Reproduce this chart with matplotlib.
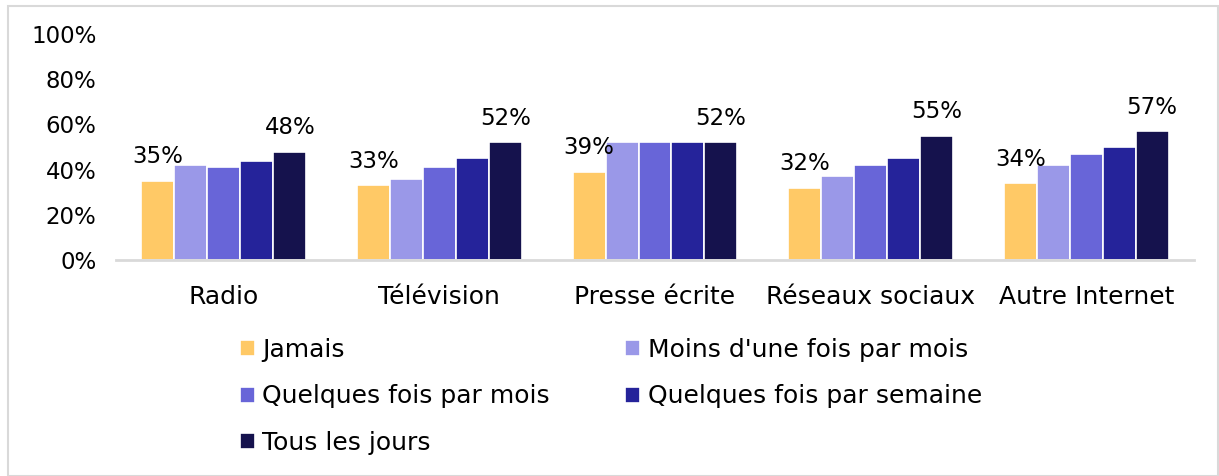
import matplotlib.pyplot as plt
import numpy as np
from matplotlib.patches import Rectangle

categories = ["Radio", "Télévision", "Presse écrite", "Réseaux sociaux", "Autre Internet"]
series = ["Jamais", "Moins d'une fois par mois", "Quelques fois par mois",
          "Quelques fois par semaine", "Tous les jours"]
values = [
    [35, 33, 39, 32, 34],   # Jamais
    [42, 36, 52, 37, 42],   # Moins d'une fois par mois
    [41, 41, 52, 42, 47],   # Quelques fois par mois
    [44, 45, 52, 45, 50],   # Quelques fois par semaine
    [48, 52, 52, 55, 57],   # Tous les jours
]
colors = ["#FFC966", "#9A98E8", "#6865D8", "#25239A", "#15124D"]
labelled = [0, 4]

plt.rcParams['font.family'] = ['DejaVu Sans']

fig = plt.figure(figsize=(12.19, 4.76), dpi=100)
fig.patches.append(Rectangle((8 / 1219, 0), 1 - 9 / 1219, 1 - 6 / 476,
                             transform=fig.transFigure, fill=False,
                             edgecolor="#D9D9D9", linewidth=1.5))
ax = fig.add_axes([116 / 1219, 1 - 260 / 476, 1078 / 1219, 226 / 476])

x = np.arange(len(categories))
step = 0.153
handles = []
for i, (name, vals) in enumerate(zip(series, values)):
    pos = x + (i - 2) * step
    bars = ax.bar(pos, np.array(vals) / 100, width=step, color=colors[i],
                  edgecolor="white", linewidth=1.2, label=name)
    handles.append(bars)
    if i in labelled:
        ax.bar_label(bars, labels=[f"{v}%" for v in vals], fontsize=16.5, padding=9)

ax.set_xlim(-0.5, len(categories) - 0.5)
ax.set_ylim(0, 1)
ticks = np.arange(0, 1.01, 0.2)
ax.set_yticks(ticks)
ax.set_yticklabels([f"{int(round(t * 100))}%" for t in ticks], fontsize=16.5)
ax.set_xticks(x)
ax.set_xticklabels(categories, fontsize=18)
ax.tick_params(axis="both", length=0)
ax.tick_params(axis="x", pad=18)
ax.tick_params(axis="y", pad=14)
for s in ["top", "right", "left"]:
    ax.spines[s].set_visible(False)
ax.spines["bottom"].set_color("#D9D9D9")
ax.spines["bottom"].set_linewidth(2)

# row-major legend order: matplotlib fills columns first
order = [0, 2, 4, 1, 3]
fig.legend([handles[k] for k in order], [series[k] for k in order],
           loc="upper left", bbox_to_anchor=(240 / 1219, 1 - 338 / 476), ncol=2,
           frameon=False, fontsize=18, handlelength=0.6, handleheight=0.6,
           handletextpad=0.3, columnspacing=3.0, labelspacing=0.9,
           borderaxespad=0, borderpad=0)

fig.savefig("out.png", dpi=100)
